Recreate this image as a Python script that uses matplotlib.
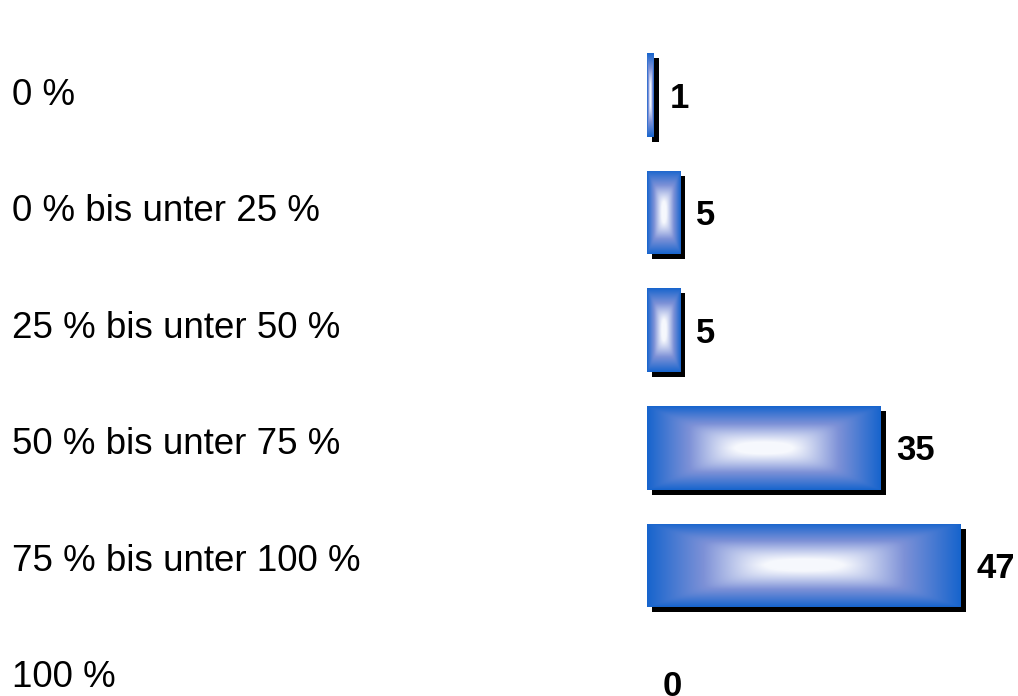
import numpy as np
import matplotlib
matplotlib.use('Agg')
import matplotlib.pyplot as plt
import matplotlib.patheffects as pe
import matplotlib.transforms as mtransforms

plt.rcParams['font.family'] = ['Liberation Sans', 'DejaVu Sans']

categories = ['0 %', '0 % bis unter 25 %', '25 % bis unter 50 %',
              '50 % bis unter 75 %', '75 % bis unter 100 %', '100 %']
counts = [1, 5, 5, 35, 47, 0]

# gradient stops: rim -> middle -> centre
RIM = np.array([22, 100, 205]) / 255.0
MID = np.array([125, 145, 215]) / 255.0
CENTRE = np.array([246, 248, 253]) / 255.0


def box_gradient(w_px, h_px, k_long=0.72, k_short=0.85, p=8.0):
    """Blue rim fading to a pale centre band, slightly softened at the diagonals."""
    nx = max(int(round(w_px)), 2)
    ny = max(int(round(h_px)), 2)
    hw, hh = w_px / 2.0, h_px / 2.0
    if hw >= hh:
        a, b = k_long * hw, k_short * hh
    else:
        a, b = k_short * hw, k_long * hh
    xs = (np.arange(nx) + 0.5) / nx * w_px - hw
    ys = (np.arange(ny) + 0.5) / ny * h_px - hh
    X, Y = np.meshgrid(xs, ys)
    u = np.clip((hw - np.abs(X)) / a, 1e-6, 1.5)
    v = np.clip((hh - np.abs(Y)) / b, 1e-6, 1.5)
    d = (u ** -p + v ** -p) ** (-1.0 / p)
    t = (1.0 - np.clip(d, 0, 1))[..., None]
    lo = CENTRE + (MID - CENTRE) * np.clip(t * 2, 0, 1)
    hi = MID + (RIM - MID) * np.clip(t * 2 - 1, 0, 1)
    return np.where(t < 0.5, lo, hi)


fig = plt.figure(figsize=(10.18, 6.96), dpi=100)
ax = fig.add_axes([647 / 1018, 0, 367 / 1018, (696 - 36.2) / 696])
ax.set_xlim(0, 55)
ax.set_ylim(5.11, -0.5)
ax.axis('off')

y = np.arange(len(categories))
bar_h = 0.71
bars = ax.barh(y, counts, height=bar_h, color=RIM, linewidth=0, zorder=2)
for bar in bars:
    bar.set_path_effects([
        pe.SimplePatchShadow(offset=(3.6, -3.6), shadow_rgbFace='black', alpha=1.0),
        pe.Normal(),
    ])

# fill each bar with the gradient, clipped to the bar shape
for bar, yi, c in zip(bars, y, counts):
    if c <= 0:
        continue
    x0, y0 = ax.transData.transform((0, yi - bar_h / 2))
    x1, y1 = ax.transData.transform((c, yi + bar_h / 2))
    img = box_gradient(abs(x1 - x0), abs(y1 - y0))
    im = ax.imshow(img, extent=(0, c, yi + bar_h / 2, yi - bar_h / 2),
                   aspect='auto', interpolation='bilinear', zorder=3)
    im.set_clip_path(bar)

ax.set_xlim(0, 55)
ax.set_ylim(5.11, -0.5)

# value labels right of each bar, baseline a little below the bar centre
value_trans = mtransforms.offset_copy(ax.transData, fig=fig, x=16, y=-12.5, units='dots')
for yi, c in zip(y, counts):
    ax.text(c, yi, str(c), transform=value_trans, ha='left', va='baseline',
            fontsize=25, fontweight='bold', color='black', clip_on=False)

# category labels at the left edge, on a slightly tighter pitch than the bars
label_trans = mtransforms.blended_transform_factory(fig.transFigure, ax.transData)
row_px = 117.6
for yi, cat in zip(y, categories):
    ly = (105 + yi * 116.4 - 95) / row_px
    ax.text(12 / 1018, ly, cat, transform=label_trans, ha='left', va='baseline',
            fontsize=26.5, color='black', clip_on=False)

fig.savefig('out.png', dpi=100, facecolor='white')
